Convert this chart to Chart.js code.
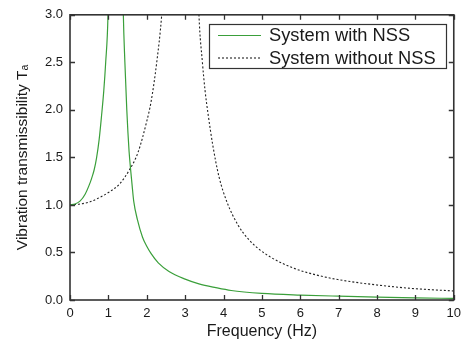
<!DOCTYPE html>
<html>
<head>
<meta charset="utf-8">
<script src="https://cdn.jsdelivr.net/npm/chart.js@4"></script>
<style>
html,body{margin:0;padding:0;background:#fff;}
#wrap{width:467px;height:344px;position:relative;}
</style>
</head>
<body>
<div id="wrap"><canvas id="c" width="467" height="344"></canvas></div>
<script>
// Frequency (Hz) and transmissibility
const withNssFreq = [0, 0.13, 0.26, 0.39, 0.53, 0.58, 0.63, 0.69, 0.76, 0.82, 0.88, 0.93, 0.99, 1.05, 1.19, 1.33, 1.39, 1.43, 1.48, 1.51, 1.54, 1.58, 1.62, 1.66, 1.76, 1.89, 2.0, 2.11, 2.3, 2.58, 3.0, 3.36, 3.8, 4.2, 5.0, 6.0, 7.0, 8.0, 9.0, 10.0];
const withNssT    = [1.0, 1.01, 1.04, 1.11, 1.24, 1.3, 1.37, 1.49, 1.69, 1.93, 2.2, 2.5, 3.0, 4.5, 12, 4.5, 3.0, 2.5, 2.0, 1.76, 1.56, 1.37, 1.2, 1.04, 0.84, 0.66, 0.565, 0.49, 0.39, 0.3, 0.22, 0.17, 0.13, 0.1, 0.07, 0.052, 0.04, 0.03, 0.022, 0.017];

const withoutNssFreq = [0, 0.26, 0.5, 0.78, 1.0, 1.29, 1.55, 1.77, 2.0, 2.11, 2.26, 2.39, 2.5, 2.92, 3.3, 3.36, 3.45, 3.52, 3.6, 3.72, 3.88, 4.09, 4.39, 4.65, 4.91, 5.25, 5.86, 6.4, 6.98, 8.0, 8.96, 10.0];
const withoutNssT    = [1.0, 1.01, 1.03, 1.08, 1.13, 1.22, 1.37, 1.55, 1.88, 2.08, 2.5, 3.0, 3.8, 20, 3.8, 3.0, 2.5, 2.2, 1.95, 1.63, 1.3, 1.03, 0.78, 0.64, 0.54, 0.445, 0.33, 0.265, 0.215, 0.158, 0.12, 0.095];

const xTicks = [0, 1, 2, 3, 4, 5, 6, 7, 8, 9, 10];
const yTicks = [0.0, 0.5, 1.0, 1.5, 2.0, 2.5, 3.0];

const seriesNames = ['System with NSS', 'System without NSS'];
const xTitle = 'Frequency (Hz)';
const yTitle = 'Vibration transmissibility T\u2090';

const FONT = "'Liberation Sans', Arial, Helvetica, sans-serif";
const GREEN = '#3a9f3a';
const DARK = '#333333';

const toXY = (xs, ys) => xs.map((x, i) => ({x: x, y: ys[i]}));

const frameTicks = {
  id: 'frameTicks',
  afterDraw(chart) {
    const {ctx, chartArea: a, scales} = chart;
    const L = 5;
    ctx.save();
    ctx.strokeStyle = DARK;
    ctx.lineWidth = 1.3;
    ctx.beginPath();
    xTicks.forEach(v => {
      const px = Math.round(scales.x.getPixelForValue(v)) + 0.5;
      ctx.moveTo(px, a.bottom); ctx.lineTo(px, a.bottom - L);
      ctx.moveTo(px, a.top); ctx.lineTo(px, a.top + L);
    });
    yTicks.forEach(v => {
      const py = Math.round(scales.y.getPixelForValue(v)) + 0.5;
      ctx.moveTo(a.left, py); ctx.lineTo(a.left + L, py);
      ctx.moveTo(a.right, py); ctx.lineTo(a.right - L, py);
    });
    ctx.stroke();
    ctx.lineWidth = 1.6;
    ctx.strokeRect(a.left, a.top, a.right - a.left, a.bottom - a.top);

    // legend box
    const bx = 209, by = 24, bw = 237, bh = 44;
    ctx.fillStyle = '#fff';
    ctx.fillRect(bx, by, bw, bh);
    ctx.lineWidth = 1.2;
    ctx.strokeStyle = DARK;
    ctx.strokeRect(bx + 0.5, by + 0.5, bw, bh);
    const rows = [35, 57.5];
    chart.data.datasets.forEach((ds, i) => {
      ctx.beginPath();
      ctx.strokeStyle = ds.borderColor;
      ctx.lineWidth = ds.borderWidth;
      ctx.setLineDash(ds.borderDash || []);
      ctx.moveTo(218, rows[i] + 0.5); ctx.lineTo(261, rows[i] + 0.5);
      ctx.stroke();
      ctx.setLineDash([]);
      ctx.fillStyle = '#1a1a1a';
      ctx.font = '18.3px ' + FONT;
      ctx.textBaseline = 'middle';
      ctx.textAlign = 'left';
      ctx.fillText(ds.label, 269, rows[i] + 1);
    });
    ctx.restore();
  }
};

new Chart(document.getElementById('c'), {
  type: 'line',
  data: {
    datasets: [
      {
        label: seriesNames[0],
        data: toXY(withNssFreq, withNssT),
        borderColor: GREEN,
        borderWidth: 1.2,
        pointRadius: 0,
        cubicInterpolationMode: 'monotone',
        fill: false
      },
      {
        label: seriesNames[1],
        data: toXY(withoutNssFreq, withoutNssT),
        borderColor: '#222222',
        borderWidth: 1.1,
        borderDash: [2, 2],
        pointRadius: 0,
        cubicInterpolationMode: 'monotone',
        fill: false
      }
    ]
  },
  options: {
    responsive: false,
    animation: false,
    events: [],
    layout: {padding: {top: 12, right: 10, bottom: 0, left: 0}},
    plugins: {legend: {display: false}, tooltip: {enabled: false}},
    scales: {
      x: {
        type: 'linear',
        min: 0, max: 10,
        afterFit(s) { s.height = 44; },
        afterBuildTicks(s) { s.ticks = xTicks.map(v => ({value: v})); },
        grid: {display: false, drawTicks: false},
        border: {display: false},
        ticks: {
          padding: 6,
          color: '#1a1a1a',
          font: {family: FONT, size: 13},
          maxRotation: 0,
          callback: v => String(v)
        },
        title: {
          display: true,
          text: xTitle,
          color: '#1a1a1a',
          font: {family: FONT, size: 16},
          padding: {top: 0, bottom: 3}
        }
      },
      y: {
        type: 'linear',
        min: 0, max: 3,
        afterFit(s) { s.width = 70; },
        afterBuildTicks(s) { s.ticks = yTicks.map(v => ({value: v})); },
        grid: {display: false, drawTicks: false},
        border: {display: false},
        ticks: {
          padding: 7,
          color: '#1a1a1a',
          font: {family: FONT, size: 13},
          callback: v => Number(v).toFixed(1)
        },
        title: {
          display: true,
          text: yTitle,
          color: '#1a1a1a',
          font: {family: FONT, size: 15.5},
          padding: {top: 13, bottom: 0}
        }
      }
    }
  },
  plugins: [frameTicks]
});
</script>
</body>
</html>
